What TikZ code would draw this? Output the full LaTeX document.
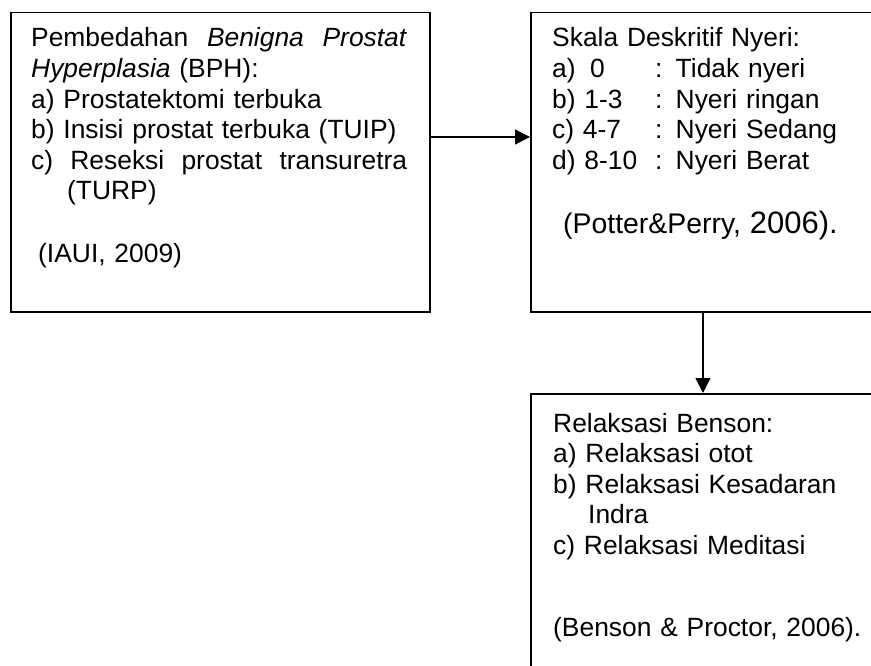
\documentclass[tikz,border=0pt]{standalone}
\usepackage{fontspec}
\setmainfont{Liberation Sans}
\usetikzlibrary{arrows.meta}
\begin{document}
\begin{tikzpicture}[x=1pt,y=-1pt,
  box/.style={draw,line width=1.5pt,minimum width=#1,minimum height=299pt,inner sep=0pt,anchor=north west},
  txt/.style={anchor=base west,inner sep=0pt,text width=#1,align=left,font=\fontsize{26.4}{30.6}\selectfont},
  conn/.style={line width=1.3pt,-{Triangle[length=15pt,width=15pt]}}]
\useasboundingbox (0,0) rectangle (871,666);
\clip (0,0) rectangle (871,666);
% boxes
\node[box=419pt] (A) at (10,12) {};
\node[box=400pt] (B) at (530,12) {};
\node[box=400pt,minimum height=320pt] (C) at (530,393) {};
% texts
\node[txt=376pt] (tA) at (31,47) {%
\leavevmode\hbox to 376pt{Pembedahan\hfil\textit{Benigna}\hfil\textit{Prostat}}\\
\textit{Hyperplasia} (BPH):\\
a) Prostatektomi terbuka\\
b) Insisi prostat terbuka (TUIP)\\
\leavevmode\hbox to 376pt{c)\hfil Reseksi\hfil prostat\hfil transuretra}\\
\hspace*{36pt}(TURP)\\[32pt]
\hspace*{7pt}(IAUI, 2009)};
\node[txt=340pt] (tB) at (552,47) {%
Skala Deskritif Nyeri:\\
\makebox[103pt][l]{a)\hspace{14.5pt}0}: Tidak nyeri\\
\makebox[103pt][l]{b) 1-3}: Nyeri ringan\\
\makebox[103pt][l]{c) 4-7}: Nyeri Sedang\\
\makebox[103pt][l]{d) 8-10}: Nyeri Berat\\[34pt]
\hspace*{11pt}{\fontsize{28.4}{30}\selectfont (Potter\&Perry, }{\fontsize{31}{30}\selectfont 2006).}};
\node[txt=340pt] (tC) at (553,432) {%
Relaksasi Benson:\\
a) Relaksasi otot\\
b) Relaksasi Kesadaran\\
\hspace*{35pt}Indra\\
c) Relaksasi Meditasi\\[51pt]
(Benson \& Proctor, 2006).};
% connectors
\coordinate (ay) at (0,137);
\coordinate (vx) at (703,0);
\draw[conn] (A.east |- ay) -- (B.west |- ay);
\draw[conn] (B.south -| vx) -- (C.north -| vx);
\end{tikzpicture}
\end{document}
